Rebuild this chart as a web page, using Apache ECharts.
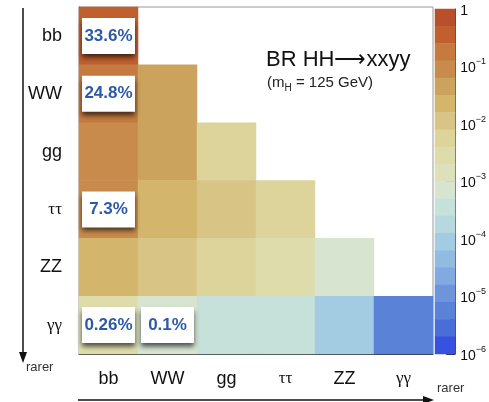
<!DOCTYPE html>
<html>
<head>
<meta charset="utf-8">
<script src="https://cdn.jsdelivr.net/npm/echarts@6/dist/echarts.min.js"></script>
<style>
  html, body { margin: 0; padding: 0; background: #fff; }
  #chart { width: 489px; height: 402px; }
</style>
</head>
<body>
<div id="chart"></div>
<script>
// decay channels, top row / left column are the most common
const rows = ['bb', 'WW', 'gg', 'ττ', 'ZZ', 'γγ'];
const cols = ['bb', 'WW', 'gg', 'ττ', 'ZZ', 'γγ'];

// BR(HH -> xx yy), lower triangle, row by row
const brMatrix = [
  [0.336],
  [0.248, 0.0462],
  [0.0994, 0.0369, 0.00734],
  [0.073, 0.0270, 0.0107, 0.0041],
  [0.0306, 0.0114, 0.00453, 0.00331, 0.000697],
  [0.0026, 0.00098, 0.00039, 0.00029, 0.00012, 0.0000052]
];

// [col, row, text] for the white boxes
const cellLabels = [
  [0, 0, '33.6%'],
  [0, 1, '24.8%'],
  [0, 3, '7.3%'],
  [0, 5, '0.26%'],
  [1, 5, '0.1%']
];

// palette bands, from 1 (top) down to 1e-6, 0.3 decade each
const bandColors = [
  '#b8502c', '#c0602f', '#c57b40', '#c88b4c', '#cba35d',
  '#d3b56b', '#d8c484', '#dcd49b', '#dfdcac', '#dde0bb',
  '#d6e4d0', '#c6e0da', '#b6d8de', '#a3cbe1', '#92bbe1',
  '#82a9e0', '#6e95dc', '#5a82d6', '#4b6dd8', '#3851de'
];
const bandStep = 0.3;

// colorbar ticks in log10 units
const cbMajors = [0, -1, -2, -3, -4, -5, -6];
const cbLabels = ['1', '10^-1', '10^-2', '10^-3', '10^-4', '10^-5', '10^-6'];

const cbMinors = [];
for (let n = -6; n < 0; n++) {
  for (let k = 2; k <= 9; k++) cbMinors.push(n + Math.log10(k));
}

const labelMap = {};
cellLabels.forEach(function (c) { labelMap[c[0] + '_' + c[1]] = c[2]; });

const heatData = [];
brMatrix.forEach(function (line, r) {
  line.forEach(function (br, c) {
    const item = { value: [c, r, Math.log10(br)] };
    const txt = labelMap[c + '_' + r];
    if (txt) item.label = { show: true, formatter: txt };
    heatData.push(item);
  });
});

const pieces = bandColors.map(function (col, i) {
  return { gte: -bandStep * (i + 1) - 1e-9, lt: -bandStep * i + 1e-9, color: col };
});

const bandNames = bandColors.map(function (c, i) { return 'b' + i; });

const chart = echarts.init(document.getElementById('chart'));

const greek = function (v) {
  return (v === 'ττ' || v === 'γγ') ? '{g|' + v + '}' : v;
};

const option = {
  animation: false,
  textStyle: { fontFamily: 'Liberation Sans, Arial, sans-serif' },
  title: [
    {
      text: 'BR HH⟶xxyy',
      left: 261, top: 44,
      textStyle: { fontSize: 22, fontWeight: 'normal', color: '#111' }
    },
    {
      text: '{a|(m}{s|H}{a| = 125 GeV)}',
      left: 262, top: 68,
      textStyle: {
        fontWeight: 'normal',
        rich: {
          a: { fontSize: 15, lineHeight: 20, fontWeight: 'normal', color: '#222' },
          s: { fontSize: 10, lineHeight: 20, fontWeight: 'normal', verticalAlign: 'bottom', color: '#222', padding: [6, 0, 0, 0] }
        }
      }
    }
  ],
  grid: [
    { left: 79, top: 7, width: 354, height: 347, show: true, borderColor: '#999', borderWidth: 1 },
    { left: 435, top: 7, width: 22, height: 347 }
  ],
  xAxis: [
    {
      type: 'category', data: cols, gridIndex: 0,
      axisLine: { lineStyle: { color: '#333' } },
      axisTick: { inside: true, length: 9, lineStyle: { color: '#333' } },
      axisLabel: {
        margin: 16, fontSize: 18, color: '#111', formatter: greek,
        rich: { g: { fontFamily: 'Liberation Serif', fontSize: 17, color: '#111' } }
      },
      splitLine: { show: false }
    },
    { type: 'category', gridIndex: 1, data: ['bar'], show: false }
  ],
  yAxis: [
    {
      type: 'category', data: rows, gridIndex: 0, inverse: true,
      axisLine: { lineStyle: { color: '#333' } },
      axisTick: { inside: true, length: 12, lineStyle: { color: '#333' } },
      axisLabel: {
        margin: 17, fontSize: 18, color: '#111', formatter: greek,
        rich: { g: { fontFamily: 'Liberation Serif', fontSize: 17, color: '#111' } }
      },
      splitLine: { show: false }
    },
    { type: 'category', data: bandNames, gridIndex: 1, inverse: true, show: false },
    {
      type: 'value', gridIndex: 1, min: -6, max: 0, position: 'right',
      axisLine: { show: true, lineStyle: { color: '#444' } },
      axisTick: { show: true, inside: true, length: 9, customValues: cbMajors, lineStyle: { color: '#333' } },
      axisLabel: {
        margin: 5, customValues: cbMajors, color: '#111',
        formatter: function (v) {
          const s = cbLabels[cbMajors.indexOf(Math.round(v))];
          if (s.indexOf('^') < 0) return '{b|' + s + '}';
          const p = s.split('^');
          return '{b|' + p[0] + '}{s|' + p[1].replace('-', '−') + '}';
        },
        rich: {
          b: { fontSize: 14, lineHeight: 18, color: '#111', padding: [4, 0, 0, 0] },
          s: { fontSize: 9, lineHeight: 18, verticalAlign: 'top', color: '#111' }
        }
      },
      splitLine: { show: false }
    },
    {
      type: 'value', gridIndex: 1, min: -6, max: 0, position: 'right',
      axisLine: { show: false },
      axisTick: { show: true, inside: true, length: 5, customValues: cbMinors, lineStyle: { color: '#333' } },
      axisLabel: { show: false },
      splitLine: { show: false }
    }
  ],
  visualMap: {
    type: 'piecewise', show: false, seriesIndex: 0, dimension: 2,
    pieces: pieces
  },
  series: [
    {
      type: 'heatmap',
      xAxisIndex: 0, yAxisIndex: 0,
      data: heatData,
      silent: true,
      label: {
        show: false,
        color: '#2d5aa8', fontWeight: 'bold', fontSize: 17,
        backgroundColor: '#fff',
        width: 47, height: 20, lineHeight: 20, padding: [8, 3], align: 'center',
        shadowColor: 'rgba(0,0,0,0.65)', shadowBlur: 5, shadowOffsetY: 4
      },
      emphasis: { disabled: true }
    },
    {
      // colour scale drawn as a one-column heatmap
      type: 'heatmap',
      xAxisIndex: 1, yAxisIndex: 1,
      silent: true,
      emphasis: { disabled: true },
      data: bandColors.map(function (c, i) {
        return { value: [0, i, 1], itemStyle: { color: c } };
      })
    }
  ],
  graphic: [
    { type: 'line', shape: { x1: 23, y1: 8, x2: 23, y2: 355 }, style: { stroke: '#111', lineWidth: 1.5 } },
    { type: 'polygon', shape: { points: [[19, 352], [27, 352], [23, 363]] }, style: { fill: '#111' } },
    { type: 'text', left: 26, top: 361, style: { text: 'rarer', fontSize: 13, fill: '#333', fontFamily: 'Liberation Sans' } },
    { type: 'line', shape: { x1: 78, y1: 400, x2: 425, y2: 400 }, style: { stroke: '#111', lineWidth: 1.5 } },
    { type: 'polygon', shape: { points: [[423, 396], [423, 404], [434, 400]] }, style: { fill: '#111' } },
    { type: 'text', left: 437, top: 382, style: { text: 'rarer', fontSize: 13, fill: '#333', fontFamily: 'Liberation Sans' } }
  ]
};

chart.setOption(option);
</script>
</body>
</html>
